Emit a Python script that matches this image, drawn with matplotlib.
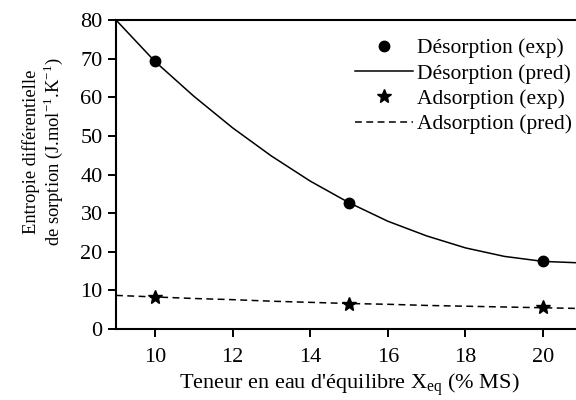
import matplotlib
matplotlib.use("Agg")
import matplotlib.pyplot as plt
from matplotlib.lines import Line2D

plt.rcParams["font.family"] = ["Liberation Serif", "DejaVu Serif"]
plt.rcParams["mathtext.fontset"] = "custom"
plt.rcParams["mathtext.rm"] = "Liberation Serif"

# teneur en eau (% MS)
x_exp = [10, 15, 20]
des_exp = [69.3, 32.7, 17.6]
ads_exp = [8.3, 6.6, 5.6]

# courbes prédites
x_pred = [9, 10, 11, 12, 13, 14, 15, 16, 17, 18, 19, 20, 21]
des_pred = [80.0, 69.3, 60.3, 52.1, 44.8, 38.3, 32.7, 27.9, 24.1, 21.0, 18.8, 17.5, 17.1]
ads_pred = [8.7, 8.3, 7.9, 7.6, 7.2, 6.9, 6.6, 6.4, 6.1, 5.9, 5.7, 5.5, 5.3]

xticks = [10, 12, 14, 16, 18, 20]
yticks = [0, 10, 20, 30, 40, 50, 60, 70, 80]

DASH = (4.5, 2.9)

fig = plt.figure(figsize=(5.76, 4.0), dpi=100)
ax = fig.add_axes([0.2014, 0.1775, 0.809, 0.7725])

ax.plot(x_pred, des_pred, color="black", lw=1.1)
ax.plot(x_pred, ads_pred, color="black", lw=1.1, dashes=DASH)
ax.plot(x_exp, des_exp, "o", color="black", ms=7.5, clip_on=False)
ax.plot(x_exp, ads_exp, "*", color="black", ms=10, clip_on=False)

ax.set_xlim(9, 21)
ax.set_ylim(0, 80)
ax.set_xticks(xticks)
ax.set_yticks(yticks)
ax.tick_params(direction="out", length=6, width=1.4, labelsize=16)
ax.tick_params(axis="x", pad=7.5)
ax.tick_params(axis="y", pad=3.6)
for s in ax.spines.values():
    s.set_linewidth(1.5)

ax.set_xlabel(r"Teneur en eau d'équilibre X$_{\mathrm{eq}}$ (% MS)", fontsize=16, labelpad=4)
ax.set_ylabel("Entropie différentielle\n" r"de sorption (J.mol$^{\mathrm{-1}}$.K$^{\mathrm{-1}}$)",
              fontsize=13.3, linespacing=1.1)
ax.yaxis.set_label_coords(-0.109, 0.573)

handles = [
    Line2D([], [], ls="none", marker="o", color="black", ms=7.5),
    Line2D([], [], color="black", lw=1.1),
    Line2D([], [], ls="none", marker="*", color="black", ms=10),
    Line2D([], [], color="black", lw=1.1, dashes=DASH),
]
labels = ["Désorption (exp)", "Désorption (pred)", "Adsorption (exp)", "Adsorption (pred)"]
fig.legend(handles, labels, loc="upper left", bbox_to_anchor=(0.616, 0.905),
           frameon=False, fontsize=15.5, handlelength=2.7, handletextpad=0.2,
           labelspacing=0.25, borderpad=0, borderaxespad=0)

fig.savefig("out.png", dpi=100)
